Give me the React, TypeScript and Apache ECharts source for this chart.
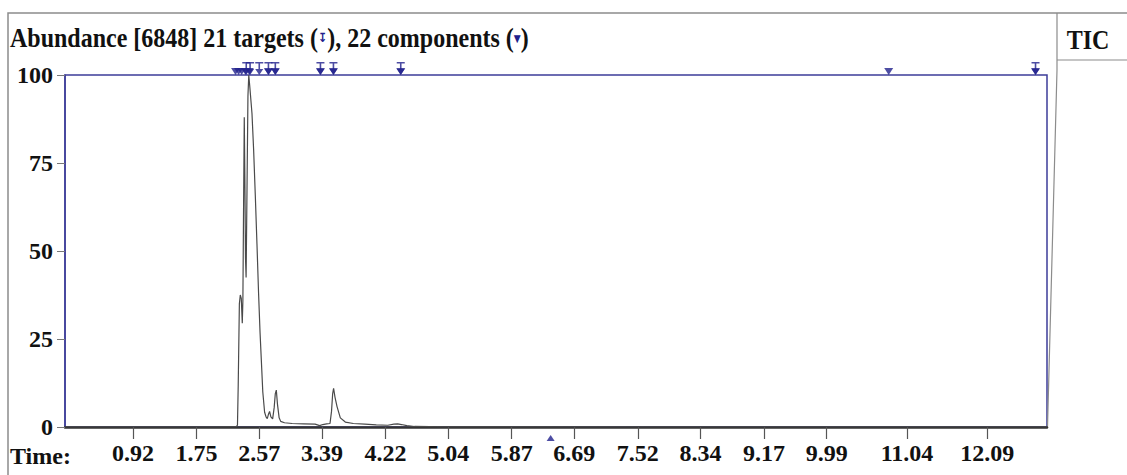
import React, { useEffect, useRef } from 'react';
import * as echarts from 'echarts';

// x-axis tick labels (retention time, min)
const timeTicks = [0.92, 1.75, 2.57, 3.39, 4.22, 5.04, 5.87, 6.69, 7.52, 8.34, 9.17, 9.99, 11.04, 12.09];
// y-axis tick labels (relative abundance, %)
const abundanceTicks = [0, 25, 50, 75, 100];

// TIC trace
const ticTime = [
  0.03, 1.0, 2.0, 2.27, 2.285, 2.295, 2.31, 2.322, 2.335, 2.348,
  2.356, 2.364, 2.374, 2.382, 2.39, 2.398, 2.41, 2.422, 2.433, 2.445,
  2.475, 2.496, 2.518, 2.54, 2.561, 2.58, 2.597, 2.616, 2.64, 2.66,
  2.675, 2.69, 2.705, 2.722, 2.745, 2.765, 2.78, 2.793, 2.808, 2.83,
  2.85, 2.9, 3.0, 3.15, 3.3, 3.36, 3.4, 3.45, 3.495, 3.515,
  3.53, 3.542, 3.56, 3.587, 3.63, 3.695, 3.8, 3.95, 4.1, 4.25,
  4.33, 4.38, 4.43, 4.5, 4.6, 5.0, 8.0, 12.87,
];
const ticAbundance = [
  0, 0, 0, 0.1, 0.5, 12, 35, 37.5, 36.5, 29.5,
  36, 60, 88, 70, 48, 42.5, 68, 94, 100, 97,
  89, 79, 66, 52, 38, 27, 19, 10, 4.2, 2.8,
  2.4, 3.6, 4.4, 2.9, 2.3, 5.5, 9.5, 10.5, 6.5, 2.6,
  1.6, 1.2, 1.0, 0.9, 0.8, 0.4, 0.7, 0.9, 1.0, 4.5,
  9.5, 11, 8.5, 5.8, 2.6, 1.4, 1.0, 0.8, 0.6, 0.5,
  0.8, 0.9, 0.7, 0.4, 0.15, 0.05, 0, 0,
];

// target / component marker times
const targetTimes = [2.4, 2.45, 2.57, 2.69, 2.78, 3.37, 3.54, 4.42, 12.72];
const componentTimes = [2.26, 2.3, 2.34, 2.39, 2.44, 2.69, 2.78, 3.37, 3.54, 4.42, 10.8, 12.72];
const lowerComponentTimes = [6.38];

const TIME_MIN = 0.03;
const TIME_MAX = 12.87;

export default function App() {
  const ref = useRef<HTMLDivElement>(null);

  useEffect(() => {
    const chart = echarts.init(ref.current as HTMLDivElement, null, { renderer: 'svg' });
    const serif = "'Liberation Serif', 'Times New Roman', serif";
    const blue = '#3d3d99';
    const markBlue = '#20208c';
    const frame = '#8c8c8c';
    const arrow = 'path://M0,0 L10,0 L10,1.6 L6,1.6 L6,7 L10,7 L5,13 L0,7 L4,7 L4,1.6 L0,1.6 Z';

    chart.setOption({
      animation: false,
      backgroundColor: '#ffffff',
      grid: {
        left: 65,
        right: 80,
        top: 75,
        bottom: 48,
        show: true,
        borderColor: blue,
        borderWidth: 1.5,
        backgroundColor: 'transparent',
      },
      xAxis: {
        type: 'value',
        min: TIME_MIN,
        max: TIME_MAX,
        axisLine: { show: true, lineStyle: { color: '#333', width: 2.5 } },
        axisTick: { show: true, customValues: timeTicks, length: 12, lineStyle: { color: '#555', width: 1.2 } },
        axisLabel: {
          customValues: timeTicks,
          formatter: (v: number) => v.toFixed(2),
          margin: 14,
          fontFamily: serif,
          fontWeight: 'bold',
          fontSize: 24,
          color: '#111',
        },
        splitLine: { show: false },
      },
      yAxis: {
        type: 'value',
        min: 0,
        max: 100,
        interval: 25,
        axisLine: { show: true, lineStyle: { color: blue, width: 1.5 } },
        axisTick: { show: true, customValues: abundanceTicks, length: 8, lineStyle: { color: '#777' } },
        axisLabel: {
          customValues: abundanceTicks,
          margin: 12,
          fontFamily: serif,
          fontWeight: 'bold',
          fontSize: 24,
          color: '#111',
        },
        splitLine: { show: false },
      },
      series: [
        {
          type: 'line',
          data: ticTime.map((t, i) => [t, ticAbundance[i]]),
          showSymbol: false,
          symbol: 'none',
          lineStyle: { color: '#4a4a4a', width: 1.2 },
          z: 3,
        },
        {
          type: 'scatter',
          data: componentTimes.map((t) => [t, 100]),
          symbol: 'triangle',
          symbolRotate: 180,
          symbolSize: [9, 7],
          symbolOffset: [0, -3.5],
          itemStyle: { color: markBlue },
          clip: false,
          z: 5,
        },
        {
          type: 'scatter',
          data: targetTimes.map((t) => [t, 100]),
          symbol: arrow,
          symbolKeepAspect: false,
          symbolSize: [8, 13],
          symbolOffset: [0, -6.5],
          itemStyle: { color: markBlue },
          clip: false,
          z: 6,
        },
        {
          type: 'scatter',
          data: lowerComponentTimes.map((t) => [t, 0]),
          symbol: 'triangle',
          symbolSize: [8, 6],
          symbolOffset: [0, 11],
          itemStyle: { color: markBlue },
          clip: false,
          z: 5,
        },
      ],
      graphic: [
        {
          type: 'polyline',
          silent: true,
          shape: { points: [[8, 475], [8, 13], [1127, 13]] },
          style: { stroke: frame, lineWidth: 1.5, fill: null },
        },
        {
          type: 'polyline',
          silent: true,
          shape: { points: [[1057, 13], [1057, 70], [1047.5, 427]] },
          style: { stroke: frame, lineWidth: 1.2, fill: null },
        },
        {
          type: 'line',
          silent: true,
          shape: { x1: 1057, y1: 60, x2: 1127, y2: 60 },
          style: { stroke: frame, lineWidth: 1.2 },
        },
        {
          type: 'text',
          silent: true,
          x: 1088,
          y: 40,
          scaleY: 1.15,
          style: {
            text: 'TIC',
            fontFamily: serif,
            fontWeight: 'bold',
            fontSize: 24,
            fill: '#111',
            align: 'center',
            verticalAlign: 'middle',
            textAlign: 'center',
            textVerticalAlign: 'middle',
          },
        },
        {
          type: 'text',
          silent: true,
          x: 10,
          y: 38,
          scaleY: 1.15,
          style: {
            text: 'Abundance [6848] 21 targets ({t|↧}), 22 components ({c|▼})',
            fontFamily: serif,
            fontWeight: 'bold',
            fontSize: 24,
            fill: '#111',
            align: 'left',
            verticalAlign: 'middle',
            textAlign: 'left',
            textVerticalAlign: 'middle',
            rich: {
              t: { fontFamily: 'DejaVu Sans', fontSize: 11, fill: markBlue, fontWeight: 'bold' },
              c: { fontFamily: 'DejaVu Sans', fontSize: 9, fill: markBlue },
            },
          },
        },
        {
          type: 'text',
          silent: true,
          x: 10,
          y: 456,
          style: {
            text: 'Time:',
            fontFamily: serif,
            fontWeight: 'bold',
            fontSize: 24,
            fill: '#111',
            align: 'left',
            verticalAlign: 'middle',
            textAlign: 'left',
            textVerticalAlign: 'middle',
          },
        },
      ],
    });

    return () => chart.dispose();
  }, []);

  return (
    <div
      ref={ref}
      style={{ position: 'absolute', left: 0, top: 0, width: 1127, height: 475 }}
    />
  );
}
